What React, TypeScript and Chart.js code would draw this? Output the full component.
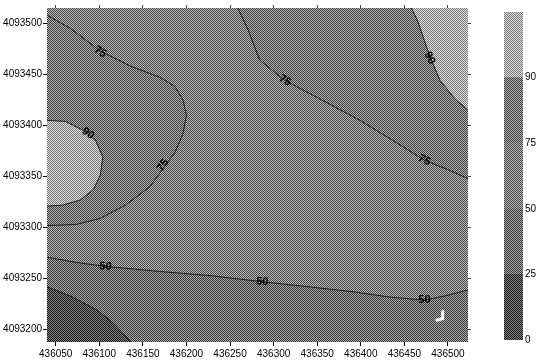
import React, { useEffect, useRef } from 'react';
import { Chart, registerables } from 'chart.js';

Chart.register(...registerables);

// ---- axis ranges and ticks ----
const xRange = [436040, 436523];
const yRange = [4093188, 4093515];
const xTickValues = [436050, 436100, 436150, 436200, 436250, 436300, 436350, 436400, 436450, 436500];
const yTickValues = [4093200, 4093250, 4093300, 4093350, 4093400, 4093450, 4093500];

// ---- contour lines (easting, northing) ----
const contour75West: number[][] = [
  [436040, 4093508], [436067, 4093495], [436101, 4093473], [436136, 4093458], [436170, 4093447],
  [436187, 4093438], [436196, 4093425], [436200, 4093410], [436196, 4093392], [436187, 4093374],
  [436176, 4093361], [436158, 4093340], [436130, 4093322], [436101, 4093309], [436073, 4093303],
  [436040, 4093302],
];
const contour90West: number[][] = [
  [436040, 4093405], [436061, 4093404], [436082, 4093395], [436096, 4093385], [436104, 4093369],
  [436101, 4093351], [436093, 4093337], [436078, 4093327], [436058, 4093322], [436040, 4093321],
];
const contour75East: number[][] = [
  [436259, 4093515], [436271, 4093493], [436284, 4093464], [436313, 4093444], [436353, 4093426],
  [436399, 4093405], [436445, 4093381], [436473, 4093366], [436502, 4093356], [436523, 4093348],
];
const contour90East: number[][] = [
  [436458, 4093515], [436465, 4093503], [436473, 4093483], [436481, 4093464], [436491, 4093444],
  [436508, 4093426], [436523, 4093415],
];
const contour50: number[][] = [
  [436040, 4093271], [436073, 4093266], [436107, 4093262], [436170, 4093257], [436227, 4093253],
  [436287, 4093247], [436330, 4093243], [436393, 4093237], [436433, 4093232], [436473, 4093229],
  [436496, 4093233], [436523, 4093239],
];
const contour25: number[][] = [
  [436040, 4093242], [436067, 4093233], [436098, 4093219], [436118, 4093205], [436136, 4093188],
];
const hookMark: number[][] = [[436494, 4093219], [436494, 4093211], [436486, 4093209]];

// contour labels: text, easting, northing, angle along the line
const contourLabelTexts = ['75', '75', '75', '75', '90', '90', '50', '50', '50'];
const contourLabelX = [436101, 436313, 436473, 436173, 436087, 436479, 436107, 436287, 436473];
const contourLabelY = [4093472, 4093444, 4093366, 4093361, 4093392, 4093466, 4093262, 4093247, 4093229];
const contourLabelAngle = [32, 30, 28, -55, 35, 65, 5, 5, 0];

// colour bar classes (bottom to top)
const colorbarLabels = ['0', '25', '50', '75', '90'];

// ---- styling ----
const BAND_GRAY = [78, 112, 128, 120, 172]; // mean grey per class (0-25 ... 90+)
const BAND_CONTRAST = [50, 58, 60, 60, 48];
const FONT = '"Liberation Sans", Arial, sans-serif';

function makePattern(ctx: CanvasRenderingContext2D, gray: number, d: number) {
  const c = document.createElement('canvas');
  c.width = 2;
  c.height = 2;
  const g = c.getContext('2d')!;
  const lo = Math.max(0, gray - d);
  const hi = Math.min(255, gray + d);
  for (let i = 0; i < 4; i++) {
    const px = i % 2;
    const py = Math.floor(i / 2);
    const v = (px + py) % 2 === 0 ? lo : hi;
    g.fillStyle = `rgb(${v},${v},${v})`;
    g.fillRect(px, py, 1, 1);
  }
  return ctx.createPattern(c, 'repeat') as CanvasPattern;
}

const toPts = (arr: number[][]) => arr.map(([x, y]) => ({ x, y }));

export default function App() {
  const mainRef = useRef<HTMLCanvasElement>(null);
  const barRef = useRef<HTMLCanvasElement>(null);

  useEffect(() => {
    const mc = mainRef.current!;
    const bc = barRef.current!;
    const mctx = mc.getContext('2d')!;
    const bctx = bc.getContext('2d')!;
    const pats = BAND_GRAY.map((g, i) => makePattern(mctx, g, BAND_CONTRAST[i]));
    const barPats = BAND_GRAY.map((g, i) => makePattern(bctx, g, BAND_CONTRAST[i]));
    const [xmin, xmax] = xRange;
    const [ymin, ymax] = yRange;

    const region = (pts: number[][], bg: CanvasPattern, order: number) => ({
      data: toPts(pts),
      showLine: true,
      fill: 'shape',
      backgroundColor: bg,
      borderColor: 'rgba(0,0,0,0)',
      borderWidth: 0,
      pointRadius: 0,
      order,
    });
    const line = (pts: number[][], color: string, width: number, order: number) => ({
      data: toPts(pts),
      showLine: true,
      fill: false,
      borderColor: color,
      borderWidth: width,
      pointRadius: 0,
      order,
    });

    const labelPlugin = {
      id: 'contourLabels',
      afterDatasetsDraw(chart: any) {
        const { ctx, scales } = chart;
        ctx.save();
        ctx.font = `bold 11px ${FONT}`;
        ctx.textAlign = 'center';
        ctx.textBaseline = 'middle';
        ctx.fillStyle = '#000';
        contourLabelTexts.forEach((t, i) => {
          ctx.save();
          ctx.translate(scales.x.getPixelForValue(contourLabelX[i]), scales.y.getPixelForValue(contourLabelY[i]));
          ctx.rotate((contourLabelAngle[i] * Math.PI) / 180);
          ctx.fillText(t, 0, 0);
          ctx.restore();
        });
        ctx.restore();
      },
    };

    const tickFont = { family: FONT, size: 10 };
    const setTicks = (vals: number[]) => (s: any) => {
      s.ticks = vals.map((v) => ({ value: v }));
    };

    const main = new Chart(mc, {
      type: 'scatter',
      data: {
        datasets: [
          region([[xmin, ymin], [xmax, ymin], [xmax, ymax], [xmin, ymax]], pats[2], 20),
          region(contour75West, pats[3], 19),
          region(contour90West, pats[4], 18),
          region([...contour75East, [xmax, ymax]], pats[3], 17),
          region([...contour90East, [xmax, ymax]], pats[4], 16),
          region([...contour50, [xmax, ymin], [xmin, ymin]], pats[1], 15),
          region([...contour25, [xmin, ymin]], pats[0], 14),
          line(contour75West, '#1e1e1e', 1, 5),
          line(contour90West, '#1e1e1e', 1, 5),
          line(contour75East, '#1e1e1e', 1, 5),
          line(contour90East, '#1e1e1e', 1, 5),
          line(contour50, '#1e1e1e', 1, 5),
          line(contour25, '#1e1e1e', 1, 5),
          line(hookMark, '#ffffff', 3, 1),
        ] as any,
      },
      options: {
        responsive: false,
        animation: false,
        events: [],
        layout: { padding: { top: 0, right: 66, left: 0, bottom: 0 } },
        plugins: { legend: { display: false }, tooltip: { enabled: false } },
        scales: {
          x: {
            type: 'linear',
            position: 'bottom',
            min: xmin,
            max: xmax,
            afterBuildTicks: setTicks(xTickValues),
            afterFit: (s: any) => { s.height = 20; },
            ticks: { callback: (v: any) => String(v), color: '#000', font: tickFont, padding: 2, maxRotation: 0, autoSkip: false },
            grid: { drawOnChartArea: false, drawTicks: true, tickLength: 4, color: '#000' },
            border: { display: false },
          },
          y: {
            type: 'linear',
            position: 'left',
            min: ymin,
            max: ymax,
            afterBuildTicks: setTicks(yTickValues),
            afterFit: (s: any) => { s.width = 47; },
            ticks: { callback: (v: any) => String(v), color: '#000', font: tickFont, padding: 1, autoSkip: false },
            grid: { drawOnChartArea: false, drawTicks: true, tickLength: 4, color: '#000' },
            border: { display: false },
          },
          x2: {
            type: 'linear',
            position: 'top',
            min: xmin,
            max: xmax,
            afterBuildTicks: setTicks(xTickValues),
            afterFit: (s: any) => { s.height = 8; },
            ticks: { display: false },
            grid: { drawOnChartArea: false, drawTicks: true, tickLength: 3, color: '#444' },
            border: { display: false },
          },
          y2: {
            type: 'linear',
            position: 'right',
            min: ymin,
            max: ymax,
            afterBuildTicks: setTicks(yTickValues),
            afterFit: (s: any) => { s.width = 4; },
            ticks: { display: false },
            grid: { drawOnChartArea: false, drawTicks: true, tickLength: 3, color: '#444' },
            border: { display: false },
          },
        },
      } as any,
      plugins: [labelPlugin],
    });

    const bar = new Chart(bc, {
      type: 'bar',
      data: {
        labels: [''],
        datasets: BAND_GRAY.map((_, i) => ({
          data: [1],
          backgroundColor: barPats[i],
          borderWidth: 0,
          barPercentage: 1,
          categoryPercentage: 1,
        })) as any,
      },
      options: {
        responsive: false,
        animation: false,
        events: [],
        layout: { padding: { left: 6, top: 12, bottom: 22, right: 0 } },
        plugins: { legend: { display: false }, tooltip: { enabled: false } },
        scales: {
          x: { display: false, stacked: true },
          y: {
            stacked: true,
            position: 'right',
            min: 0,
            max: 5,
            afterBuildTicks: setTicks([0, 1, 2, 3, 4]),
            afterFit: (s: any) => { s.width = 15; },
            ticks: { callback: (v: any) => colorbarLabels[v] ?? '', color: '#000', font: tickFont, padding: 2, autoSkip: false },
            grid: { display: false, drawTicks: false },
            border: { display: false },
          },
        },
      } as any,
    });

    return () => {
      main.destroy();
      bar.destroy();
    };
  }, []);

  return (
    <div style={{ position: 'absolute', left: 0, top: 0, width: 538, height: 362, background: '#fff' }}>
      <canvas ref={mainRef} width={538} height={362} style={{ position: 'absolute', left: 0, top: 0 }} />
      <canvas ref={barRef} width={40} height={362} style={{ position: 'absolute', left: 498, top: 0 }} />
    </div>
  );
}
